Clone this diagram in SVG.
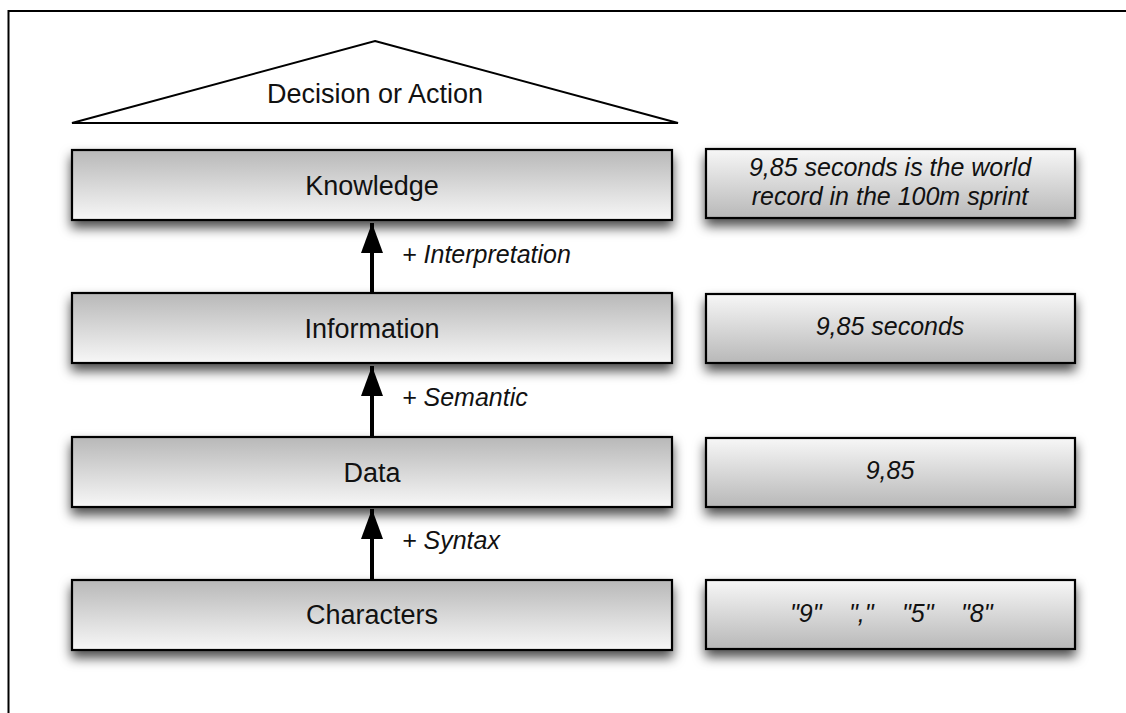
<svg xmlns="http://www.w3.org/2000/svg" width="1126" height="713" viewBox="0 0 1126 713">
  <style>
    .lbl { font-family: "Liberation Sans", Arial, Helvetica, sans-serif; font-size: 27px; fill: #111; text-anchor: middle; }
    .ex { font-family: "Liberation Sans", Arial, Helvetica, sans-serif; font-size: 25px; font-style: italic; fill: #111; text-anchor: middle; }
    .step { font-family: "Liberation Sans", Arial, Helvetica, sans-serif; font-size: 25px; font-style: italic; fill: #111; }
    .layer { fill: url(#gradUp); stroke: #000; stroke-width: 2.2; filter: url(#shadow); }
    .sample { fill: url(#gradDown); stroke: #000; stroke-width: 2.2; filter: url(#shadow); }
    .frame { fill: none; stroke: #000; stroke-width: 2; }
    .conn { stroke: #000; stroke-width: 4; fill: none; marker-end: url(#head); }
  </style>
  <defs>
    <linearGradient id="gradUp" x1="0" y1="0" x2="0" y2="1">
      <stop offset="0" stop-color="#b8b8b8"/>
      <stop offset="1" stop-color="#f7f7f7"/>
    </linearGradient>
    <linearGradient id="gradDown" x1="0" y1="0" x2="0" y2="1">
      <stop offset="0" stop-color="#f7f7f7"/>
      <stop offset="1" stop-color="#b8b8b8"/>
    </linearGradient>
    <filter id="shadow" x="-10%" y="-30%" width="120%" height="180%">
      <feDropShadow dx="0" dy="7" stdDeviation="6" flood-color="#000" flood-opacity="0.7"/>
    </filter>
    <marker id="head" markerUnits="userSpaceOnUse" markerWidth="32" markerHeight="24" viewBox="0 0 32 24" refX="30" refY="12" orient="auto">
      <path d="M0,1 L30,12 L0,23 Z" fill="#000"/>
    </marker>
  </defs>

  <!-- page frame (open at right and bottom) -->
  <path class="frame" d="M8.5,713 V11 H1126"/>

  <g id="decision">
    <polygon points="375,41 678,123 72,123" fill="#fff" stroke="#000" stroke-width="2"/>
    <text class="lbl" x="375" y="103">Decision or Action</text>
  </g>

  <g id="knowledge">
    <rect class="layer" x="72" y="150" width="600" height="70"/>
    <text class="lbl" x="372" y="195">Knowledge</text>
  </g>
  <g id="knowledge-example">
    <rect class="sample" x="706" y="149" width="369" height="69"/>
    <text class="ex" x="890" y="176">9,85 seconds is the world</text>
    <text class="ex" x="890" y="205">record in the 100m sprint</text>
  </g>

  <g id="information">
    <rect class="layer" x="72" y="293" width="600" height="70"/>
    <text class="lbl" x="372" y="338">Information</text>
  </g>
  <g id="information-example">
    <rect class="sample" x="706" y="294" width="369" height="69"/>
    <text class="ex" x="890" y="335">9,85 seconds</text>
  </g>

  <g id="data">
    <rect class="layer" x="72" y="437" width="600" height="70"/>
    <text class="lbl" x="372" y="482">Data</text>
  </g>
  <g id="data-example">
    <rect class="sample" x="706" y="438" width="369" height="69"/>
    <text class="ex" x="890" y="479">9,85</text>
  </g>

  <g id="characters">
    <rect class="layer" x="72" y="580" width="600" height="70"/>
    <text class="lbl" x="372" y="624">Characters</text>
  </g>
  <g id="characters-example">
    <rect class="sample" x="706" y="580" width="369" height="69"/>
    <text class="ex" y="622" style="text-anchor:start"><tspan x="790">"9"</tspan><tspan x="849">","</tspan><tspan x="902">"5"</tspan><tspan x="961">"8"</tspan></text>
  </g>

  <g id="connectors">
    <line class="conn" x1="372" y1="293" x2="372" y2="223"/>
    <line class="conn" x1="372" y1="437" x2="372" y2="366"/>
    <line class="conn" x1="372" y1="580" x2="372" y2="509"/>
    <text class="step" x="402" y="263">+ Interpretation</text>
    <text class="step" x="402" y="406">+ Semantic</text>
    <text class="step" x="402" y="549">+ Syntax</text>
  </g>
</svg>
